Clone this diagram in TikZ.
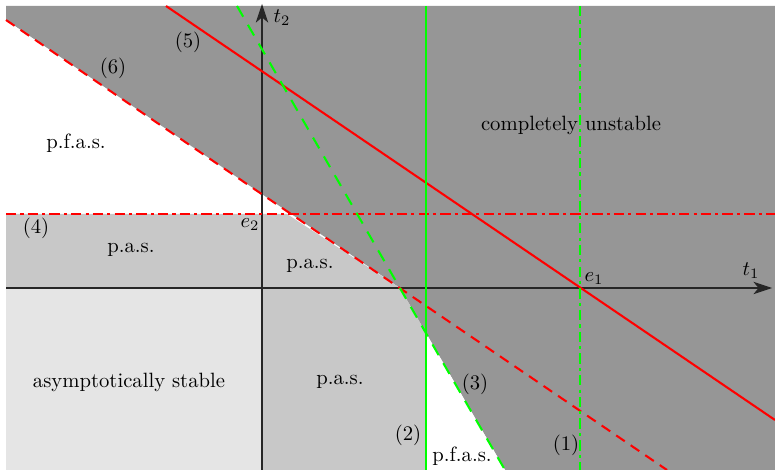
\documentclass[tikz,border=0pt]{standalone}
\usetikzlibrary{arrows.meta}
\definecolor{darkreg}{gray}{0.588}
\definecolor{midreg}{gray}{0.784}
\definecolor{lightreg}{gray}{0.898}
\definecolor{brightgreen}{RGB}{0,255,0}
\tikzset{
  redline/.style={red, line width=1pt},
  greenline/.style={brightgreen, line width=1pt},
  dashpat/.style={dash pattern=on 5pt off 3.5pt},
  gdashpat/.style={dash pattern=on 6pt off 4.5pt},
  dotdash/.style={dash pattern=on 5pt off 2pt on 1.5pt off 2pt},
  axis/.style={black!85, line width=0.5pt, -{Stealth[length=9pt,width=6pt,inset=2.5pt]}},
  lbl/.style={inner sep=0pt, font=\normalsize},
}
\begin{document}
\begin{tikzpicture}[x=0.017cm, y=-0.017cm]
\useasboundingbox (0,0) rectangle (775,470);
% regions
\fill[darkreg] (6,6) -- (775,6) -- (775,470) -- (505,470) -- (400,288) -- (6,20) -- cycle;
\fill[white] (6,20) -- (287,214) -- (6,214) -- cycle;
\fill[midreg] (6,214) -- (287,214) -- (400,288) -- (6,288) -- cycle;
\fill[lightreg] (6,288) rectangle (262,470);
\fill[midreg] (262,288) -- (400,288) -- (426,333) -- (426,470) -- (262,470) -- cycle;
\fill[white] (426,333) -- (505,470) -- (426,470) -- cycle;
% coordinates
\coordinate (o) at (262,288);
\coordinate (xs) at (6,288);
\coordinate (xe) at (772,288);
\coordinate (ys) at (262,470);
\coordinate (ye) at (262,4);
\coordinate (e1) at (580,288);
\coordinate (e2) at (262,214);
% axes
\draw[axis] (xs) -- (xe);
\draw[axis] (ys) -- (ye);
% lines
\coordinate (l6a) at (6,20);
\coordinate (l6b) at (667,470);
\coordinate (l5a) at (166,6);
\coordinate (l5b) at (775,420);
\coordinate (l4a) at (6,214);
\coordinate (l4b) at (775,214);
\coordinate (l3a) at (237,6);
\coordinate (l3b) at (505,470);
\coordinate (l2a) at (426,6);
\coordinate (l2b) at (426,470);
\coordinate (l1a) at (580,6);
\coordinate (l1b) at (580,470);
\draw[redline, dashpat] (l6a) -- (l6b);
\draw[redline] (l5a) -- (l5b);
\draw[redline, dotdash] (l4a) -- (l4b);
\draw[greenline, gdashpat] (l3a) -- (l3b);
\draw[greenline] (l2a) -- (l2b);
\draw[greenline, dotdash] (l1a) -- (l1b);
% labels
\node[lbl] (t2) at (282,18) {$t_2$};
\node[lbl] (t1) at (751,271) {$t_1$};
\node[lbl] (e1l) at (594,279) {$e_1$};
\node[lbl] (e2l) at (250,225) {$e_2$};
\node[lbl] (cu) at (571,125) {completely unstable};
\node[lbl] (pf1) at (76,143) {p.f.a.s.};
\node[lbl] (n6) at (113,68) {(6)};
\node[lbl] (n5) at (188,42) {(5)};
\node[lbl] (n4) at (36,228) {(4)};
\node[lbl] (pa1) at (131,250) {p.a.s.};
\node[lbl] (pa2) at (310,266) {p.a.s.};
\node[lbl] (as) at (129,382) {asymptotically stable};
\node[lbl] (pa3) at (340,382) {p.a.s.};
\node[lbl] (n3) at (475,384) {(3)};
\node[lbl] (n2) at (408,435) {(2)};
\node[lbl] (n1) at (566,445) {(1)};
\node[lbl] (pf2) at (462,456) {p.f.a.s.};
\end{tikzpicture}
\end{document}
